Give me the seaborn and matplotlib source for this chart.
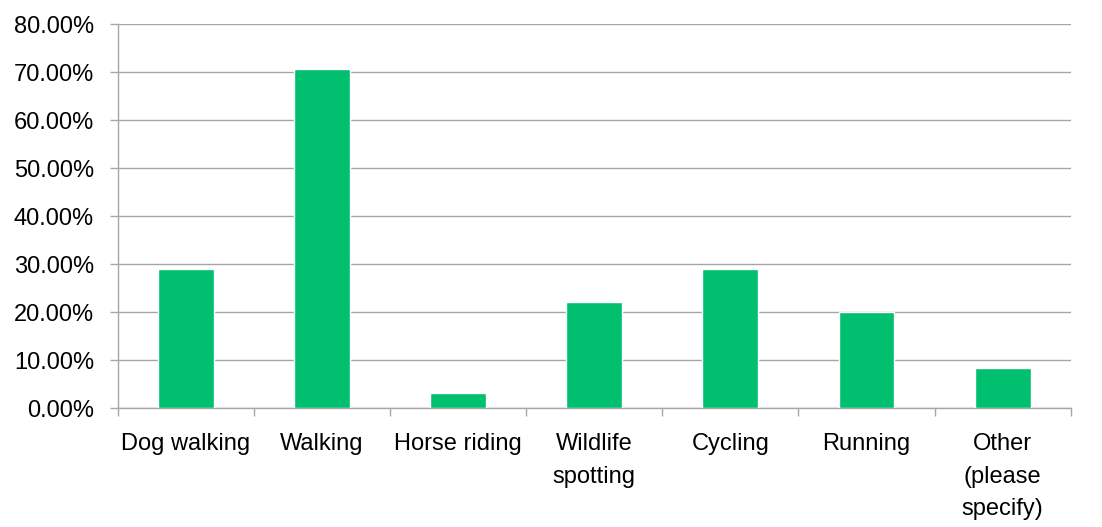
import matplotlib
matplotlib.use("Agg")
import matplotlib.pyplot as plt
import seaborn as sns
import pandas as pd
import numpy as np
from matplotlib.ticker import FuncFormatter, FixedLocator

categories = ["Dog walking", "Walking", "Horse riding", "Wildlife\nspotting",
              "Cycling", "Running", "Other\n(please\nspecify)"]
values = [29.0, 70.6, 3.1, 22.1, 29.0, 20.0, 8.4]

sns.set_theme(style="white")
plt.rcParams['font.family'] = ['Liberation Sans', 'DejaVu Sans']

df = pd.DataFrame({"cat": categories, "val": values})

fig = plt.figure(figsize=(11.02, 5.27), dpi=100)
ax = fig.add_axes([117.7/1102, 1 - 408.3/527, (1070.7-117.7)/1102, (408.3-24.3)/527])

sns.barplot(data=df, x="cat", y="val", color="#00BF6F", saturation=1, width=0.41, ax=ax, zorder=3)

ax.set_ylim(0, 80)
ax.set_xlim(-0.5, len(categories) - 0.5)
ax.set_yticks(np.arange(0, 81, 10))
ax.yaxis.set_major_formatter(FuncFormatter(lambda v, p: f"{v:.2f}%"))
ax.grid(axis="y", color="#A6A6A6", linewidth=1.0, zorder=0)
ax.set_axisbelow(True)
ax.set_xlabel("")
ax.set_ylabel("")

for s in ["top", "right"]:
    ax.spines[s].set_visible(False)
for s in ["left", "bottom"]:
    ax.spines[s].set_color("#A6A6A6")
    ax.spines[s].set_linewidth(1.0)

ax.tick_params(axis="y", which="major", length=6, color="#A6A6A6", width=1,
               labelsize=17, labelcolor="black", pad=11, left=True)
ax.tick_params(axis="x", which="major", length=0, labelsize=17, labelcolor="black", pad=18)
ax.xaxis.set_minor_locator(FixedLocator(np.arange(-0.5, len(categories), 1.0)))
ax.tick_params(axis="x", which="minor", length=6, color="#A6A6A6", width=1, bottom=True)
for lbl in ax.get_xticklabels():
    lbl.set_verticalalignment("top")
    lbl.set_linespacing(1.6)

fig.savefig("out.png", dpi=100, facecolor="white")
